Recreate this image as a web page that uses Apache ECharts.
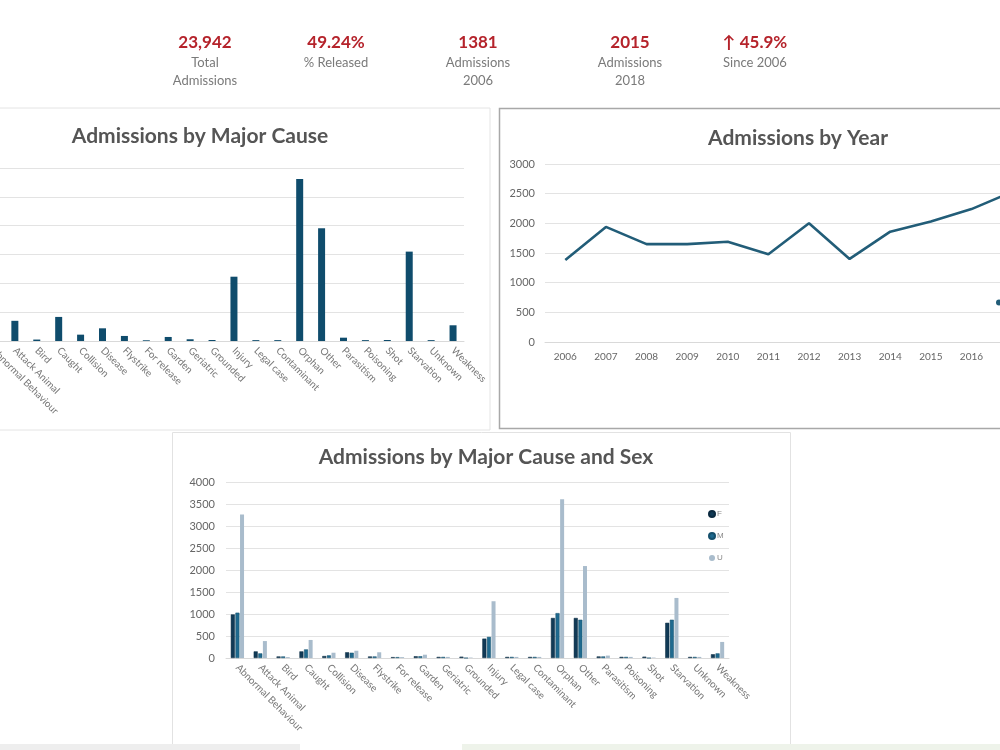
<!DOCTYPE html>
<html>
<head>
<meta charset="utf-8">
<script src="https://cdn.jsdelivr.net/npm/echarts@6/dist/echarts.min.js"></script>
<style>html,body{margin:0;padding:0;background:#fff;overflow:hidden;width:1000px;height:750px;position:relative;}#c{position:absolute;left:-60px;top:0;width:1200px;height:750px;}</style>
</head>
<body>
<div id="c"></div>
<script>
const causes = ["Abnormal Behaviour","Attack Animal","Bird","Caught","Collision","Disease","Flystrike","For release","Garden","Geriatric","Grounded","Injury","Legal case","Contaminant","Orphan","Other","Parasitism","Poisoning","Shot","Starvation","Unknown","Weakness"];
const causeTotals = [5300,700,50,835,220,440,175,25,140,60,35,2230,30,30,5615,3910,115,30,35,3100,30,545];
const years = ["2006","2007","2008","2009","2010","2011","2012","2013","2014","2015","2016","2017","2018"];
const yearTotals = [1381,1940,1650,1650,1690,1480,2000,1400,1860,2030,2240,2530,2015];
const sexF = [990,150,35,150,45,130,35,20,40,25,30,440,25,25,910,910,35,25,30,800,25,85];
const sexM = [1030,105,35,195,60,120,35,20,40,25,0,480,25,25,1020,870,35,25,0,870,25,105];
const sexU = [3260,385,20,410,120,165,130,20,75,25,10,1290,25,25,3610,2090,55,25,10,1365,25,365];
const kpiValues = ["23,942","49.24%","1381","2015","\u2191 45.9%"];
const kpiLabels = [["Total","Admissions"],["% Released"],["Admissions","2006"],["Admissions","2018"],["Since 2006"]];
const titles = ["Admissions by Major Cause","Admissions by Year","Admissions by Major Cause and Sex"];

const OX = 60; // canvas is shifted left by OX so charts can be cut at the page edges
const kpiX = [205,336,478,630,755];
const titlePos = [[200,136],[798,138],[486,457]];
const font = 'Lato, "Open Sans", sans-serif';
const graphics = [
  {type:'rect', shape:{x:OX-2,y:108,width:492,height:322}, style:{fill:'none',stroke:'#e4e4e4',lineWidth:1}, z:-1},
  {type:'rect', shape:{x:OX+499.5,y:108.5,width:560,height:320}, style:{fill:'none',stroke:'#a8a8a8',lineWidth:1.5}, z:-1},
  {type:'rect', shape:{x:OX+172.5,y:432.5,width:618,height:330}, style:{fill:'none',stroke:'#e2e2e2',lineWidth:1}, z:-1},
  {type:'rect', shape:{x:OX+462,y:744,width:540,height:8}, style:{fill:'#eef3ea'}, z:-1},
  {type:'rect', shape:{x:OX,y:744,width:300,height:8}, style:{fill:'#eeeeee'}, z:-1}
];
kpiValues.forEach((v,i)=>{
  graphics.push({type:'text', x:OX+kpiX[i], y:43, style:{text:v, fill:'#b5232b', font:'bold 17px '+font, textAlign:'center', textVerticalAlign:'middle'}});
  kpiLabels[i].forEach((l,j)=>{
    graphics.push({type:'text', x:OX+kpiX[i], y:63+18*j, style:{text:l, fill:'#7a7a7a', font:'13px '+font, textAlign:'center', textVerticalAlign:'middle'}});
  });
});
titles.forEach((t,i)=>{
  graphics.push({type:'text', x:OX+titlePos[i][0], y:titlePos[i][1], style:{text:t, fill:'#555', font:'bold 21px '+font, textAlign:'center', textVerticalAlign:'middle'}});
});

const gridLine = {show:true, lineStyle:{color:'#e3e3e3', width:1}};
const catAxisLine = {show:true, lineStyle:{color:'#d9d9d9'}};
const plain = v => String(v);
const chart = echarts.init(document.getElementById('c'));
chart.setOption({
  animation:false,
  backgroundColor:'#fff',
  graphic: graphics,
  legend:[
    {data:['Total'], left:OX+996, top:298, padding:0, orient:'vertical', icon:'circle', itemWidth:6, itemHeight:6, textStyle:{fontSize:9,color:'#777'}},
    {data:['F','M','U'], left:OX+703, top:505, orient:'vertical', icon:'circle', itemWidth:6, itemHeight:6, itemGap:14, textStyle:{fontSize:8, color:'#888', padding:[0,0,0,-3]}}
  ],
  grid:[
    {left:OX-18, top:168, width:482, height:173},
    {left:OX+545, top:164, width:528, height:178},
    {left:OX+226, top:482, width:503, height:176}
  ],
  xAxis:[
    {gridIndex:0, type:'category', data:causes, axisTick:{show:false}, axisLine:catAxisLine,
     axisLabel:{interval:0, rotate:-45, fontSize:10, color:'#777', fontFamily:font, margin:8}},
    {gridIndex:1, type:'category', data:years, axisTick:{show:false}, axisLine:catAxisLine,
     axisLabel:{interval:0, fontSize:10, color:'#666', fontFamily:font, margin:10}},
    {gridIndex:2, type:'category', data:causes, axisTick:{show:false}, axisLine:catAxisLine,
     axisLabel:{interval:0, rotate:-45, fontSize:10, color:'#777', fontFamily:font, margin:8}}
  ],
  yAxis:[
    {gridIndex:0, type:'value', min:0, max:6000, interval:1000, axisLabel:{show:false}, splitLine:gridLine, axisLine:{show:false}, axisTick:{show:false}},
    {gridIndex:1, type:'value', min:0, max:3000, interval:500, axisLabel:{fontSize:11, color:'#666', fontFamily:font, margin:10, formatter:plain}, splitLine:gridLine, axisLine:{show:false}, axisTick:{show:false}},
    {gridIndex:2, type:'value', min:0, max:4000, interval:500, axisLabel:{fontSize:11, color:'#666', fontFamily:font, margin:11, formatter:plain}, splitLine:gridLine, axisLine:{show:false}, axisTick:{show:false}}
  ],
  series:[
    {name:'Admissions', type:'bar', xAxisIndex:0, yAxisIndex:0, data:causeTotals, barWidth:7, itemStyle:{color:'#0f4c6c'}},
    {name:'Total', type:'line', xAxisIndex:1, yAxisIndex:1, data:yearTotals, showSymbol:false, symbol:'circle', lineStyle:{width:2.6, color:'#225d78'}, itemStyle:{color:'#225d78'}},
    {name:'F', type:'bar', xAxisIndex:2, yAxisIndex:2, data:sexF, barWidth:4, barGap:'15%', itemStyle:{color:'#113a56', borderColor:'#0b2a40', borderWidth:0.5}},
    {name:'M', type:'bar', xAxisIndex:2, yAxisIndex:2, data:sexM, barWidth:4, barGap:'15%', itemStyle:{color:'#1f6a8f', borderColor:'#16506d', borderWidth:0.5}},
    {name:'U', type:'bar', xAxisIndex:2, yAxisIndex:2, data:sexU, barWidth:4, barGap:'15%', itemStyle:{color:'#a9bccc'}}
  ]
});
</script>
</body>
</html>
